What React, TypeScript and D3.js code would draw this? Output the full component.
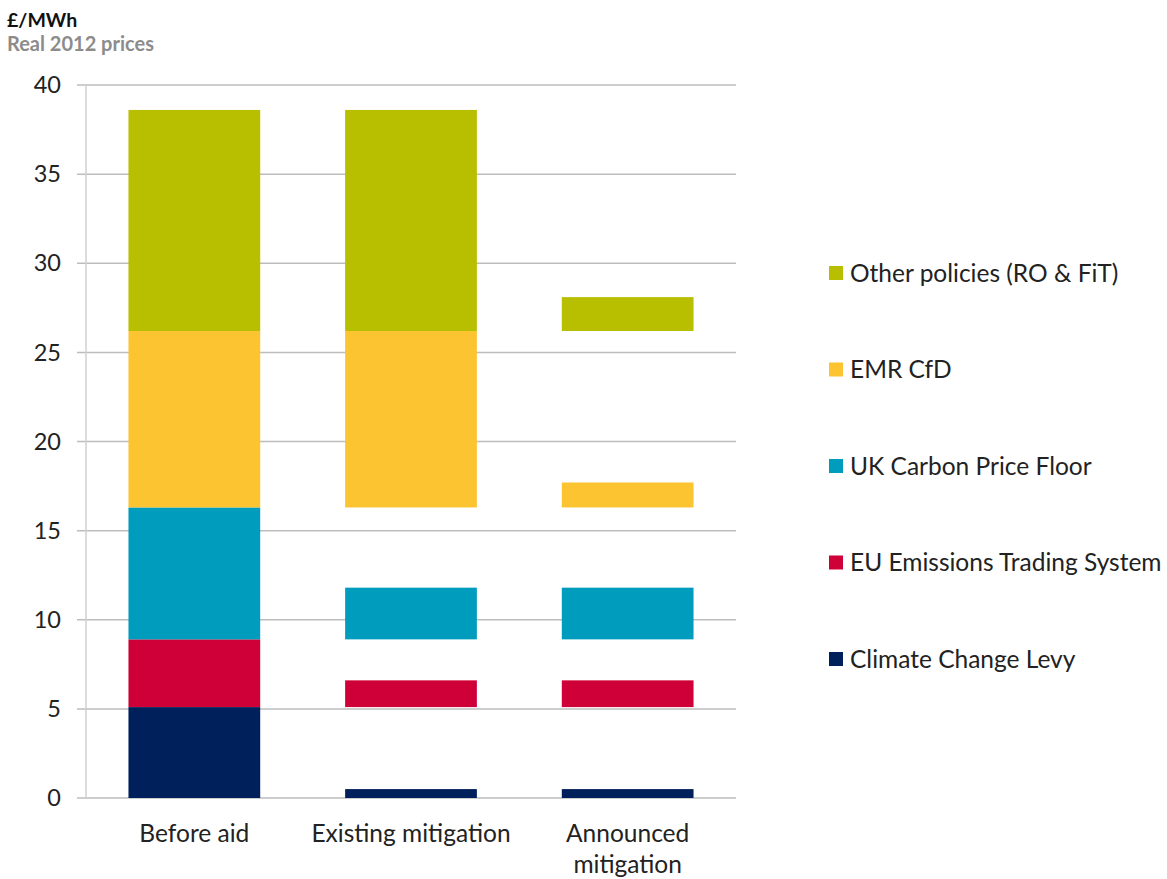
import React from "react";
import * as d3 from "d3";

const categories = ["Before aid", "Existing mitigation", "Announced mitigation"];
const categoryLines = [["Before aid"], ["Existing mitigation"], ["Announced", "mitigation"]];
const seriesNames = [
  "Climate Change Levy",
  "EU Emissions Trading System",
  "UK Carbon Price Floor",
  "EMR CfD",
  "Other policies (RO & FiT)",
];
const seriesColors = ["#00205B", "#CE0037", "#009CBD", "#FDC431", "#B7BF00"];
// Full (before aid) size of each component, stacked from zero
const beforeAid = [5.1, 3.8, 7.4, 9.9, 12.4];
// Remaining size of each component after mitigation, drawn from the same base
const existingMitigation = [0.5, 1.5, 2.9, 9.9, 12.4];
const announcedMitigation = [0.5, 1.5, 2.9, 1.4, 1.9];
const yTicks = [0, 5, 10, 15, 20, 25, 30, 35, 40];

const W = 1167;
const H = 879;
const FONT = "Lato, 'Open Sans', sans-serif";

export default function App() {
  const x = d3
    .scaleBand<string>()
    .domain(categories)
    .range([86, 736])
    .paddingInner(0.392)
    .paddingOuter(0.196);
  const y = d3.scaleLinear().domain([0, 40]).range([798, 85]);

  const bases = d3.cumsum([0, ...beforeAid.slice(0, -1)]);
  const values = [beforeAid, existingMitigation, announcedMitigation];

  const legendY = d3
    .scalePoint<string>()
    .domain([...seriesNames].reverse())
    .range([273, 659]);

  return (
    <svg width={W} height={H} style={{ position: "absolute", left: 0, top: 0 }}>
      <rect width={W} height={H} fill="#fff" />
      <text x={7} y={27} fontFamily={FONT} fontWeight="bold" fontSize={19.5} fill="#111">
        £/MWh
      </text>
      <text x={7} y={51} fontFamily={FONT} fontWeight="bold" fontSize={20} fill="#8C8C8C">
        Real 2012 prices
      </text>
      {yTicks.map((t) => (
        <g key={t}>
          <line x1={77} x2={736} y1={y(t)} y2={y(t)} stroke="#BDBDBD" strokeWidth={1.5} />
          <text
            x={61}
            y={y(t)}
            dy="0.35em"
            textAnchor="end"
            fontFamily={FONT}
            fontSize={23.5}
            fill="#222"
          >
            {t}
          </text>
        </g>
      ))}
      <line x1={86} x2={86} y1={y(40)} y2={y(0)} stroke="#D0D0D0" strokeWidth={1.5} />
      {categories.map((c, ci) =>
        values[ci].map((v, si) => (
          <rect
            key={c + si}
            x={x(c)}
            width={x.bandwidth()}
            y={y(bases[si] + v)}
            height={y(bases[si]) - y(bases[si] + v)}
            fill={seriesColors[si]}
          />
        ))
      )}
      {categories.map((c, ci) =>
        categoryLines[ci].map((line, li) => (
          <text
            key={c + li}
            x={(x(c) ?? 0) + x.bandwidth() / 2}
            y={842 + li * 31}
            textAnchor="middle"
            fontFamily={FONT}
            fontSize={24.5}
            fill="#222"
          >
            {line}
          </text>
        ))
      )}
      {seriesNames.map((s, si) => (
        <g key={s} transform={`translate(829, ${legendY(s)})`}>
          <rect x={0} y={-7} width={14} height={14} fill={seriesColors[si]} />
          <text x={21} y={0} dy="0.36em" fontFamily={FONT} fontSize={24.5} fill="#222">
            {s}
          </text>
        </g>
      ))}
    </svg>
  );
}
